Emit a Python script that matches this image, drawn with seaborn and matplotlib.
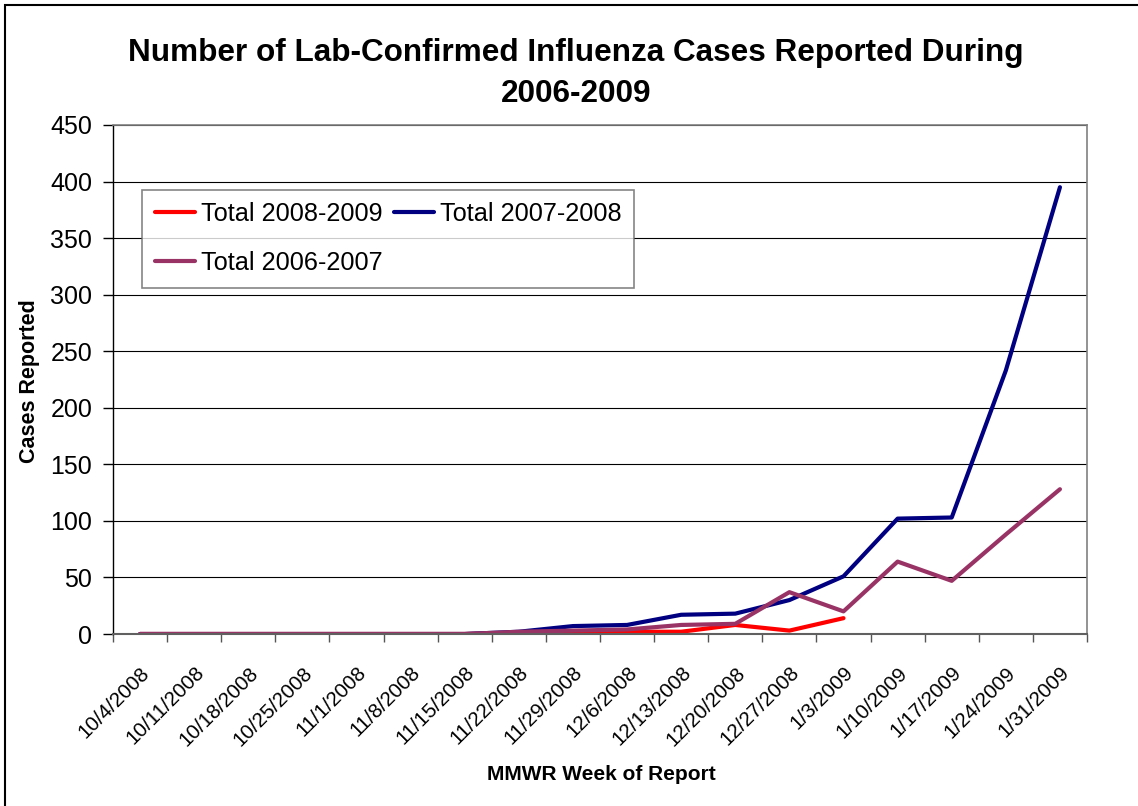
import numpy as np
import pandas as pd
import matplotlib
matplotlib.use("Agg")
import matplotlib.pyplot as plt
import seaborn as sns
from matplotlib.patches import Rectangle
from matplotlib.transforms import ScaledTranslation

weeks = ["10/4/2008", "10/11/2008", "10/18/2008", "10/25/2008", "11/1/2008",
         "11/8/2008", "11/15/2008", "11/22/2008", "11/29/2008", "12/6/2008",
         "12/13/2008", "12/20/2008", "12/27/2008", "1/3/2009", "1/10/2009",
         "1/17/2009", "1/24/2009", "1/31/2009"]
total_2008_2009 = [0, 0, 0, 0, 0, 0, 0, 1, 1, 2, 2, 8, 3, 14,
                   np.nan, np.nan, np.nan, np.nan]
total_2007_2008 = [0, 0, 0, 0, 0, 0, 0, 2, 7, 8, 17, 18, 30, 51, 102, 103, 233, 395]
total_2006_2007 = [0, 0, 0, 0, 0, 0, 0, 2, 3, 4, 8, 9, 37, 20, 64, 47, 88, 128]
series_names = ["Total 2008-2009", "Total 2007-2008", "Total 2006-2007"]
series_colors = ["#FF0000", "#000080", "#993366"]
y_ticks = list(range(0, 451, 50))

sns.set_theme(style="white")
plt.rcParams["font.family"] = ["Liberation Sans", "DejaVu Sans"]
plt.rcParams["text.color"] = "black"
plt.rcParams["axes.labelcolor"] = "black"
plt.rcParams["xtick.color"] = "black"
plt.rcParams["ytick.color"] = "black"

rows = []
for name, vals in zip(series_names, [total_2008_2009, total_2007_2008, total_2006_2007]):
    for i, (w, v) in enumerate(zip(weeks, vals)):
        rows.append({"idx": i, "week": w, "series": name, "cases": v})
df = pd.DataFrame(rows).dropna()

fig = plt.figure(figsize=(11.38, 8.06), dpi=100)
fig.patch.set_facecolor("white")
ax = fig.add_axes([113/1138, 1-634/806, 974/1138, 509/806])

sns.lineplot(data=df, x="idx", y="cases", hue="series", hue_order=series_names,
             palette=series_colors, linewidth=3, sort=False, ax=ax, legend=True,
             estimator=None)

ax.set_xlim(-0.5, len(weeks) - 0.5)
ax.set_ylim(0, 450)
ax.set_yticks(y_ticks)
ax.set_yticklabels([str(t) for t in y_ticks], fontsize=18, color="black")
ax.set_xticks(range(len(weeks)))
ax.set_xticklabels(weeks, rotation=45, ha="right", va="top",
                   rotation_mode="anchor", fontsize=14.8, color="black")
shift = ScaledTranslation(-9/100, 0, fig.dpi_scale_trans)
for lab in ax.get_xticklabels():
    lab.set_transform(lab.get_transform() + shift)
ax.set_xticks(np.arange(-0.5, len(weeks), 1.0), minor=True)
ax.tick_params(axis="x", which="major", length=0, pad=21)
ax.tick_params(axis="x", which="minor", length=6, width=1, color="#555555", direction="out", bottom=True)
ax.tick_params(axis="y", length=7, width=1, color="black", direction="out", left=True, pad=8)

ax.yaxis.grid(True, color="black", linewidth=0.8)
ax.xaxis.grid(False)
ax.set_axisbelow(True)

for s in ["top", "right"]:
    ax.spines[s].set_color("#808080")
    ax.spines[s].set_linewidth(1.2)
ax.spines["left"].set_color("black")
ax.spines["left"].set_linewidth(1)
ax.spines["bottom"].set_color("#606060")
ax.spines["bottom"].set_linewidth(1.5)

ax.set_xlabel("MMWR Week of Report", fontsize=15, fontweight="bold", color="black")
ax.set_ylabel("Cases Reported", fontsize=15.5, fontweight="bold", color="black")
ax.xaxis.set_label_coords((601-113)/974, -(765-634)/509)
ax.yaxis.set_label_coords(-(113-40)/974, (634-381)/509)

handles, labels = ax.get_legend_handles_labels()
order = [0, 2, 1]
leg = ax.legend([handles[i] for i in order], [labels[i] for i in order],
                ncol=2, loc="upper left",
                bbox_to_anchor=((142-113)/974, (634-189.5)/509),
                borderaxespad=0, fontsize=18.2, frameon=True, fancybox=False,
                edgecolor="#666666", handlelength=1.58, handletextpad=0.25,
                columnspacing=0.45, labelspacing=0.98, borderpad=0.5)
leg.get_frame().set_linewidth(1.2)
for line in leg.get_lines():
    line.set_linewidth(3)
for t in leg.get_texts():
    t.set_color("black")

fig.text(576/1138, 1-73.5/806, "Number of Lab-Confirmed Influenza Cases Reported During\n2006-2009",
         ha="center", va="center", fontsize=22.7, fontweight="bold", linespacing=1.48,
         color="black")

fig.patches.append(Rectangle((5/1138, -0.05), 1.2, 1 - 5/806 + 0.05,
                             transform=fig.transFigure, fill=False,
                             edgecolor="black", linewidth=1.5))

fig.savefig("out.png", dpi=100, facecolor="white")
